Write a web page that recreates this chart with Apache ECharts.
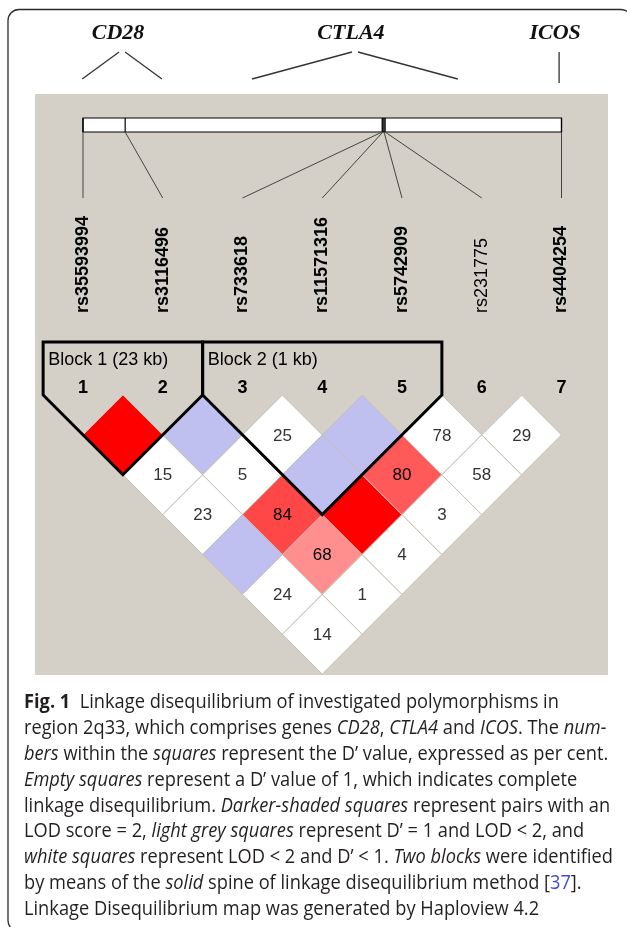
<!DOCTYPE html>
<html>
<head>
<meta charset="utf-8">
<script src="https://cdn.jsdelivr.net/npm/echarts@6/dist/echarts.min.js"></script>
<style>
  html, body { margin: 0; padding: 0; background: #fff; }
  #chart { width: 627px; height: 927px; }
</style>
</head>
<body>
<div id="chart"></div>
<script>
// ---- data ----
var snpNames = ['rs35593994', 'rs3116496', 'rs733618', 'rs11571316', 'rs5742909', 'rs231775', 'rs4404254'];
var snpMapKb = [0, 23, 163.2, 163.6, 164.2, 164.8, 261];
var geneNames = ['CD28', 'CTLA4', 'ICOS'];
var geneFrom = [0.99, 3.12, 6.97];   // span in marker slots
var geneTo = [1.99, 5.70, 6.97];
// upper triangle, row i holds pairs (i, i+1 .. 7); D' in per cent
var dPrimePct = [
  [100, 15, 23, 100, 24, 14],
  [100, 5, 84, 68, 1],
  [25, 100, 100, 4],
  [100, 80, 3],
  [78, 58],
  [29]
];
// 1 = LOD >= 2
var lodOver2 = [
  [1, 0, 0, 0, 0, 0],
  [0, 0, 1, 1, 0],
  [0, 0, 1, 0],
  [0, 1, 0],
  [0, 0],
  [0]
];
var blockFrom = [1, 3];
var blockTo = [2, 5];
var blockLabels = ['Block 1 (23 kb)', 'Block 2 (1 kb)'];

var captionLines = [
  '{b|Fig. 1}  Linkage disequilibrium of investigated polymorphisms in',
  'region 2q33, which comprises genes {i|CD28}, {i|CTLA4} and {i|ICOS}. The {i|num-}',
  '{i|bers} within the {i|squares} represent the D\u2019 value, expressed as per cent.',
  '{i|Empty squares} represent a D\u2019 value of 1, which indicates complete',
  'linkage disequilibrium. {i|Darker-shaded squares} represent pairs with an',
  'LOD score = 2, {i|light grey squares} represent D\u2019 = 1 and LOD < 2, and',
  '{i|white squares} represent LOD < 2 and D\u2019 < 1. {i|Two blocks} were identified',
  'by means of the {i|solid} spine of linkage disequilibrium method [{l|37}].',
  'Linkage Disequilibrium map was generated by Haploview 4.2'
];

// ---- build series data ----
var nSnp = snpNames.length;
var mapSpan = snpMapKb[nSnp - 1];
function kbToSlot(kb) { return 1 + (nSnp - 1) * kb / mapSpan; }

var ldCells = [];
dPrimePct.forEach(function(row, r) {
  row.forEach(function(d, k) {
    var i = r + 1, j = r + 2 + k;
    ldCells.push([(i + j) / 2, (j - i) / 2, d, lodOver2[r][k]]);
  });
});
var snpData = snpNames.map(function(n, k) { return [k + 1, snpMapKb[k], k]; });
var geneData = geneNames.map(function(n, k) { return [geneFrom[k], geneTo[k], k]; });
var blockData = blockFrom.map(function(a, k) { return [a, blockTo[k], k]; });

var SANS = '"Liberation Sans", Arial, sans-serif';

function cellColor(d, lod) {
  if (lod) {
    if (d >= 100) return '#ff0000';
    var g = Math.max(0, Math.min(255, Math.round(223 * 2 * (1 - d / 100))));
    return 'rgb(255,' + g + ',' + g + ')';
  }
  return d >= 100 ? '#c0c0f0' : '#ffffff';
}

function renderCell(params, api) {
  var cx = api.value(0), cy = api.value(1), d = api.value(2), lod = api.value(3);
  var pts = [
    api.coord([cx, cy - 0.5]), api.coord([cx + 0.5, cy]),
    api.coord([cx, cy + 0.5]), api.coord([cx - 0.5, cy])
  ];
  var c = api.coord([cx, cy]);
  var children = [{
    type: 'polygon',
    shape: { points: pts },
    style: { fill: cellColor(d, lod), stroke: '#c4c0b4', lineWidth: 1 }
  }];
  if (d < 100) {
    children.push({
      type: 'text', x: c[0], y: c[1] + 1,
      style: {
        text: String(d), fill: lod ? '#000' : '#333',
        font: '17px ' + SANS,
        textAlign: 'center', textVerticalAlign: 'middle',
        align: 'center', verticalAlign: 'middle'
      }
    });
  }
  return { type: 'group', children: children };
}

var BLOCK_TOP = -0.665;
function renderBlock(params, api) {
  var a = api.value(0), b = api.value(1), k = api.value(2);
  var pts = [
    api.coord([a - 0.5, BLOCK_TOP]), api.coord([a - 0.5, 0]),
    api.coord([(a + b) / 2, (b - a + 1) / 2]),
    api.coord([b + 0.5, 0]), api.coord([b + 0.5, BLOCK_TOP])
  ];
  var lab = api.coord([a - 0.5, -0.44]);
  return {
    type: 'group',
    children: [{
      type: 'polygon', shape: { points: pts },
      style: { fill: 'none', stroke: '#000', lineWidth: 3, lineJoin: 'miter' }
    }, {
      type: 'text', x: lab[0] + 5, y: lab[1],
      style: {
        text: blockLabels[k], fill: '#000', font: '18px ' + SANS,
        textAlign: 'left', textVerticalAlign: 'middle',
        align: 'left', verticalAlign: 'middle'
      }
    }]
  };
}

function renderSnp(params, api) {
  var slot = api.value(0), kb = api.value(1), k = api.value(2);
  var x = api.coord([slot, 0])[0];
  var mx = api.coord([kbToSlot(kb), 0])[0];
  var children = [
    { type: 'line', shape: { x1: mx, y1: 118, x2: mx, y2: 132 }, style: { stroke: '#000', lineWidth: 1.2 } },
    { type: 'line', shape: { x1: mx, y1: 132, x2: x, y2: 198 }, style: { stroke: '#444', lineWidth: 1 } },
    {
      type: 'text', x: x, y: 313, rotation: Math.PI / 2,
      style: {
        text: snpNames[k], fill: '#000',
        font: (k === 5 ? 'normal ' : 'bold ') + '18px ' + SANS,
        textAlign: 'left', textVerticalAlign: 'middle',
        align: 'left', verticalAlign: 'middle'
      }
    },
    {
      type: 'text', x: x, y: 388,
      style: {
        text: String(k + 1), fill: '#000', font: 'bold 18px ' + SANS,
        textAlign: 'center', textVerticalAlign: 'middle',
        align: 'center', verticalAlign: 'middle'
      }
    }
  ];
  return { type: 'group', children: children };
}

function renderMapBar(params, api) {
  var x0 = api.coord([kbToSlot(api.value(0)), 0])[0];
  var x1 = api.coord([kbToSlot(api.value(1)), 0])[0];
  return {
    type: 'rect',
    shape: { x: x0, y: 118, width: x1 - x0, height: 14 },
    style: { fill: '#fff', stroke: '#000', lineWidth: 1.2 }
  };
}

function renderGene(params, api) {
  var f = api.coord([api.value(0), 0])[0];
  var t = api.coord([api.value(1), 0])[0];
  var k = api.value(2);
  var mid = (f + t) / 2;
  var st = { stroke: '#333', lineWidth: 1.3 };
  var children = [{
    type: 'text', x: mid - 4, y: 33,
    style: {
      text: geneNames[k], fill: '#111',
      font: 'italic bold 22px "Liberation Serif", "Times New Roman", serif',
      textAlign: 'center', textVerticalAlign: 'middle',
      align: 'center', verticalAlign: 'middle'
    }
  }];
  if (t - f < 1) {
    children.push({ type: 'line', shape: { x1: f, y1: 52, x2: f, y2: 83 }, style: st });
  } else {
    children.push({ type: 'line', shape: { x1: mid - 3, y1: 52, x2: f, y2: 79 }, style: st });
    children.push({ type: 'line', shape: { x1: mid + 3, y1: 52, x2: t, y2: 79 }, style: st });
  }
  return { type: 'group', children: children };
}

// caption: fit the widest line to the width
var CAP_FAMILY = '"Open Sans", sans-serif';
var CAP_SIZE = 20;
var capFonts = {
  n: CAP_SIZE + 'px ' + CAP_FAMILY,
  b: 'bold ' + CAP_SIZE + 'px ' + CAP_FAMILY,
  i: 'italic ' + CAP_SIZE + 'px ' + CAP_FAMILY,
  l: CAP_SIZE + 'px ' + CAP_FAMILY
};
var ctx = document.createElement('canvas').getContext('2d');
function measureRich(line) {
  var w = 0, re = /\{([a-z])\|([^}]*)\}|([^{]+)/g, m;
  while ((m = re.exec(line))) {
    ctx.font = m[1] ? capFonts[m[1]] : capFonts.n;
    w += ctx.measureText(m[1] ? m[2] : m[3]).width;
  }
  return w;
}
var capScale = 589 / measureRich(captionLines[6]);

var graphics = [
  {
    type: 'rect', z: -10, silent: true,
    shape: { x: 8, y: 9.5, width: 624, height: 922, r: 11 },
    style: { fill: '#fff', stroke: '#2a2a2a', lineWidth: 1.3 }
  },
  {
    type: 'rect', z: -9, silent: true,
    shape: { x: 35, y: 94, width: 573, height: 581 },
    style: { fill: '#d4d0c8' }
  }
];
var capColor = '#231f20';
captionLines.forEach(function(line, k) {
  graphics.push({
    type: 'text', z: 5, x: 24, y: 702.7 + 25.8 * k, scaleX: capScale, originX: 0, originY: 0,
    style: {
      text: line, fontSize: CAP_SIZE, fontFamily: CAP_FAMILY, fill: capColor,
      textAlign: 'left', textVerticalAlign: 'middle',
      align: 'left', verticalAlign: 'middle',
      rich: {
        b: { fontSize: CAP_SIZE, fontFamily: CAP_FAMILY, fontWeight: 'bold', fill: capColor, color: capColor },
        i: { fontSize: CAP_SIZE, fontFamily: CAP_FAMILY, fontStyle: 'italic', fill: capColor, color: capColor },
        l: { fontSize: CAP_SIZE, fontFamily: CAP_FAMILY, fill: '#3d4fd8', color: '#3d4fd8' }
      }
    }
  });
});

var chart = echarts.init(document.getElementById('chart'), null, { renderer: 'canvas' });
var unit = 79.75;
chart.setOption({
  animation: false,
  backgroundColor: '#fff',
  graphic: graphics,
  grid: { left: 83 - 0.5 * unit, width: 7 * unit, top: 395, height: 3.5 * unit },
  xAxis: { type: 'value', min: 0.5, max: 7.5, show: false },
  yAxis: { type: 'value', min: 0, max: 3.5, inverse: true, show: false },
  series: [
    { type: 'custom', name: 'map', clip: false, renderItem: renderMapBar, data: [[0, mapSpan]], z: 3 },
    { type: 'custom', name: 'snps', clip: false, renderItem: renderSnp, data: snpData, z: 4 },
    { type: 'custom', name: 'genes', clip: false, renderItem: renderGene, data: geneData, z: 4 },
    { type: 'custom', name: 'ld', clip: false, renderItem: renderCell, data: ldCells, z: 5 },
    { type: 'custom', name: 'blocks', clip: false, renderItem: renderBlock, data: blockData, z: 6 }
  ]
});
</script>
</body>
</html>
